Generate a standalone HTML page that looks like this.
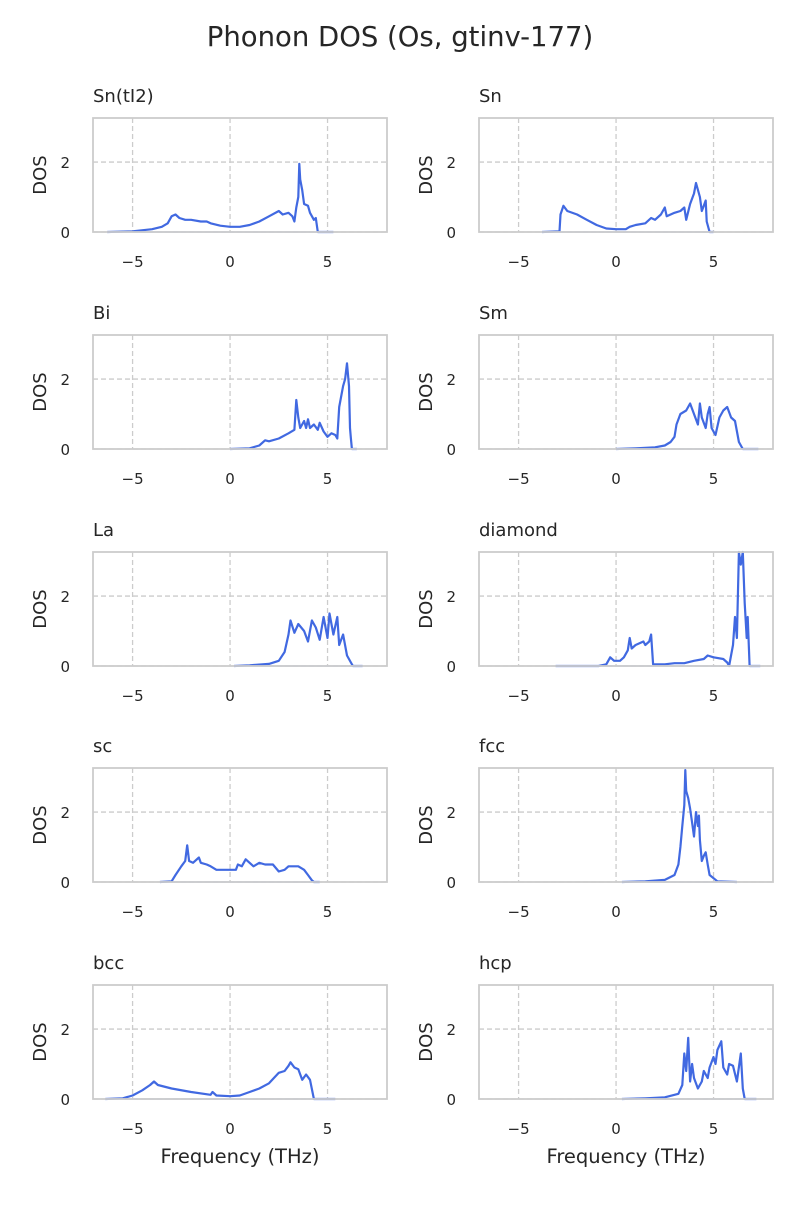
<!DOCTYPE html>
<html><head><meta charset="utf-8"><style>
body{margin:0;background:#fff;font-family:"Liberation Sans","DejaVu Sans",sans-serif}
svg text{font-family:"DejaVu Sans","Liberation Sans",sans-serif;fill:#262626}
</style></head><body>
<svg id="fig" width="800" height="1200" xmlns="http://www.w3.org/2000/svg">
<text x="400" y="46" text-anchor="middle" font-size="27.5">Phonon DOS (Os, gtinv-177)</text>
</svg>
<script>
const panelNames=["Sn(tI2)","Sn","Bi","Sm","La","diamond","sc","fcc","bcc","hcp"];
const xTicks=[-5,0,5];
const xTickLabels=["\u22125","0","5"];
const yTicks=[0,2];
const yTickLabels=["0","2"];
const dosSnTI2=[[-6.3,0],[-5,0.02],[-4,0.08],[-3.5,0.15],[-3.2,0.25],[-3,0.45],[-2.8,0.5],[-2.6,0.4],[-2.3,0.35],[-2,0.35],[-1.5,0.3],[-1.2,0.3],[-1,0.25],[-0.5,0.18],[0,0.15],[0.5,0.15],[1,0.2],[1.5,0.3],[2,0.45],[2.5,0.6],[2.7,0.5],[3,0.55],[3.2,0.45],[3.3,0.3],[3.4,0.7],[3.5,1.0],[3.55,1.95],[3.6,1.5],[3.7,1.2],[3.8,0.8],[4,0.75],[4.1,0.55],[4.3,0.35],[4.4,0.4],[4.5,0],[5.3,0]];
const dosSn=[[-3.8,0],[-2.9,0.02],[-2.85,0.5],[-2.7,0.75],[-2.5,0.6],[-2,0.5],[-1.5,0.35],[-1,0.2],[-0.5,0.1],[0,0.08],[0.5,0.08],[0.7,0.15],[1,0.2],[1.5,0.25],[1.8,0.4],[2,0.35],[2.3,0.5],[2.5,0.7],[2.6,0.45],[3,0.55],[3.3,0.6],[3.5,0.7],[3.6,0.35],[3.8,0.8],[4,1.1],[4.1,1.4],[4.3,1.0],[4.4,0.6],[4.5,0.75],[4.6,0.9],[4.65,0.3],[4.8,0],[5,0]];
const dosBi=[[0,0],[1,0.02],[1.5,0.1],[1.8,0.25],[2,0.22],[2.5,0.3],[3,0.45],[3.3,0.55],[3.4,1.4],[3.5,0.9],[3.6,0.6],[3.8,0.8],[3.9,0.6],[4,0.85],[4.1,0.6],[4.3,0.7],[4.5,0.55],[4.6,0.75],[4.8,0.5],[5,0.35],[5.2,0.45],[5.4,0.4],[5.5,0.3],[5.6,1.2],[5.8,1.8],[5.9,2.0],[6,2.45],[6.1,1.8],[6.15,0.6],[6.2,0.3],[6.25,0],[6.5,0]];
const dosSm=[[0,0],[1,0.02],[2,0.05],[2.5,0.1],[2.8,0.2],[3,0.35],[3.1,0.7],[3.3,1.0],[3.6,1.1],[3.8,1.3],[4,1.0],[4.2,0.7],[4.3,1.3],[4.4,0.9],[4.6,0.6],[4.7,1.0],[4.8,1.2],[4.9,0.6],[5,0.5],[5.1,0.4],[5.3,0.9],[5.5,1.1],[5.7,1.2],[5.9,0.9],[6.1,0.8],[6.3,0.2],[6.5,0],[7.3,0]];
const dosLa=[[0.2,0],[1,0.02],[2,0.06],[2.5,0.15],[2.8,0.4],[3,0.9],[3.1,1.3],[3.3,0.95],[3.5,1.2],[3.8,1.0],[4,0.7],[4.2,1.3],[4.4,1.1],[4.6,0.75],[4.8,1.4],[5,0.8],[5.1,1.5],[5.3,0.9],[5.5,1.4],[5.6,0.6],[5.8,0.9],[6,0.3],[6.2,0.1],[6.3,0],[6.8,0]];
const dosDiamond=[[-3.1,0],[-0.9,0],[-0.5,0.05],[-0.3,0.25],[-0.1,0.15],[0.2,0.15],[0.4,0.25],[0.6,0.45],[0.7,0.8],[0.8,0.5],[1,0.6],[1.2,0.65],[1.4,0.7],[1.5,0.6],[1.7,0.7],[1.8,0.9],[1.9,0.05],[2.5,0.05],[3,0.08],[3.5,0.08],[4,0.15],[4.5,0.2],[4.7,0.3],[5,0.25],[5.5,0.2],[5.7,0.1],[5.8,0],[6,0.6],[6.1,1.4],[6.2,0.8],[6.3,3.3],[6.4,2.9],[6.5,3.3],[6.6,1.8],[6.7,0.8],[6.75,1.4],[6.85,0],[7.4,0]];
const dosSc=[[-3.6,0],[-3,0.02],[-2.8,0.2],[-2.5,0.45],[-2.3,0.6],[-2.2,1.05],[-2.1,0.6],[-1.9,0.55],[-1.6,0.7],[-1.5,0.55],[-1.2,0.5],[-1,0.45],[-0.7,0.35],[0,0.35],[0.3,0.35],[0.4,0.5],[0.6,0.45],[0.8,0.65],[1,0.55],[1.2,0.45],[1.5,0.55],[1.8,0.5],[2.2,0.5],[2.5,0.3],[2.8,0.35],[3,0.45],[3.5,0.45],[3.8,0.35],[4,0.2],[4.2,0.05],[4.3,0],[4.6,0]];
const dosFcc=[[0.3,0],[1.5,0.02],[2.5,0.06],[3,0.2],[3.2,0.5],[3.3,1.0],[3.4,1.6],[3.5,2.2],[3.55,3.2],[3.6,2.6],[3.7,2.4],[3.8,2.1],[3.9,1.7],[4,1.3],[4.1,2.0],[4.2,1.6],[4.25,1.9],[4.3,1.2],[4.4,0.6],[4.5,0.75],[4.6,0.85],[4.7,0.5],[4.8,0.2],[5.2,0.02],[6.2,0]];
const dosBcc=[[-6.4,0],[-5.5,0.02],[-5,0.1],[-4.5,0.25],[-4.1,0.4],[-3.9,0.5],[-3.7,0.4],[-3,0.3],[-2,0.2],[-1,0.12],[-0.9,0.2],[-0.7,0.1],[0,0.08],[0.5,0.1],[1,0.2],[1.5,0.3],[2,0.45],[2.5,0.75],[2.8,0.8],[3,0.95],[3.1,1.05],[3.3,0.9],[3.5,0.85],[3.7,0.55],[3.9,0.7],[4.1,0.55],[4.3,0],[5.4,0]];
const dosHcp=[[0.3,0],[1.5,0.02],[2.5,0.05],[3.2,0.15],[3.4,0.4],[3.5,1.3],[3.6,0.8],[3.7,1.75],[3.8,0.5],[3.9,1.0],[4,0.6],[4.2,0.3],[4.4,0.5],[4.5,0.8],[4.7,0.6],[4.8,0.9],[5,1.2],[5.1,1.0],[5.2,1.4],[5.4,1.65],[5.5,0.9],[5.7,0.7],[5.8,1.0],[6,0.95],[6.2,0.5],[6.4,1.3],[6.5,0.3],[6.6,0],[7.2,0]];
const allSeries=[dosSnTI2,dosSn,dosBi,dosSm,dosLa,dosDiamond,dosSc,dosFcc,dosBcc,dosHcp];

const NS="http://www.w3.org/2000/svg";
const svg=document.getElementById("fig");
const X0=-7.03,X1=8.05,Y0=0,Y1=3.26,PW=294,PH=114;
const lefts=[93,479],tops=[118,335,552,768,985];
function mk(tag,attrs,parent){const e=document.createElementNS(NS,tag);for(const k in attrs)e.setAttribute(k,attrs[k]);(parent||svg).appendChild(e);return e;}
allSeries.forEach((data,i)=>{
  const L=lefts[i%2],T=tops[Math.floor(i/2)];
  const sx=v=>L+(v-X0)/(X1-X0)*PW;
  const sy=v=>T+PH-(v-Y0)/(Y1-Y0)*PH;
  const g=mk("g",{});
  
  
  const tt=mk("text",{x:L,y:T-16,"font-size":"18"},g);tt.textContent=panelNames[i];
  
  
  xTicks.forEach((t,j)=>{
    const gl=mk("line",{x1:sx(t),x2:sx(t),y1:T,y2:T+PH,stroke:"#ccc","stroke-width":1.3,"stroke-dasharray":"5,3"},g);
    
    
    const tl=mk("text",{x:sx(t),y:T+PH+35,"text-anchor":"middle","font-size":"15"},g);tl.textContent=xTickLabels[j];
    
    
  });
  yTicks.forEach((t,j)=>{
    const gl=mk("line",{x1:L,x2:L+PW,y1:sy(t),y2:sy(t),stroke:"#ccc","stroke-width":1.3,"stroke-dasharray":"5,3"},g);
    
    
    const tl=mk("text",{x:L-23,y:sy(t)+6,"text-anchor":"end","font-size":"15"},g);tl.textContent=yTickLabels[j];
    
    
  });
  const yl=mk("text",{x:0,y:0,"text-anchor":"middle","font-size":"18",transform:`translate(${L-47},${T+PH/2}) rotate(-90)`},g);yl.textContent="DOS";
  
  
  if(i>=8){const xl=mk("text",{x:L+PW/2,y:T+PH+64,"text-anchor":"middle","font-size":"19.5"},g);xl.textContent="Frequency (THz)";
    
    }
  const base=mk("line",{x1:sx(data[0][0]),x2:sx(data[data.length-1][0]),y1:sy(0),y2:sy(0),stroke:"#aab8f0","stroke-width":1.5},g);
  
  
  const d=data.map((p,k)=>(k?"L":"M")+sx(p[0]).toFixed(1)+","+Math.max(T,sy(p[1])).toFixed(1)).join("");
  const pl=mk("path",{d:d,fill:"none",stroke:"#4169e1","stroke-width":2.2,"stroke-linejoin":"round"},g);
  
  
  const fr=mk("rect",{x:L,y:T,width:PW,height:PH,fill:"none",stroke:"#cccccc","stroke-width":1.8},g);
  
  
});
</script>
</body></html>
